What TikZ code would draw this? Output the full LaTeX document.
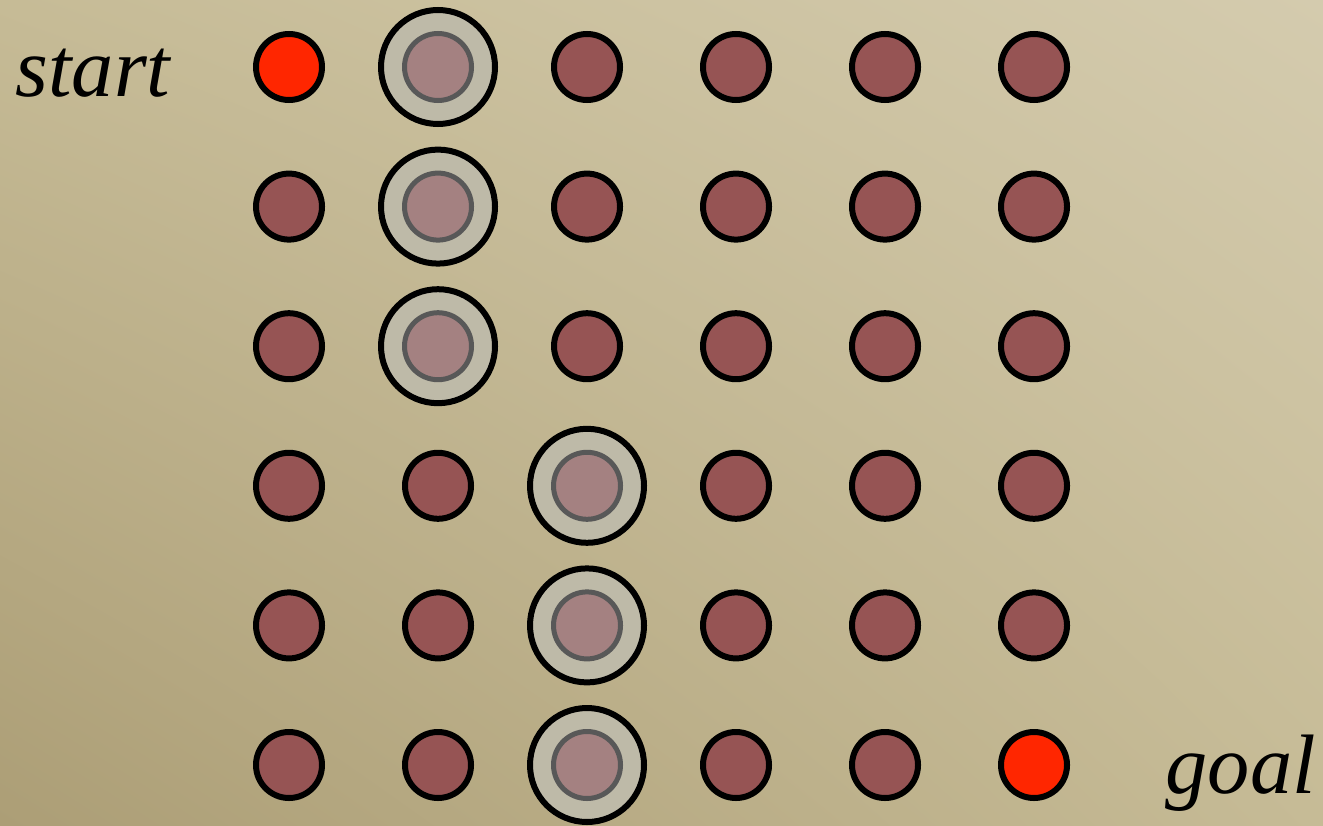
\documentclass[tikz,border=0pt]{standalone}
\usepackage{fontspec}
\setmainfont{Liberation Serif}
\usetikzlibrary{calc,shadings}
\definecolor{sandlight}{RGB}{212,203,174}
\definecolor{sandmid}{RGB}{198,187,150}
\definecolor{sanddark}{RGB}{172,158,118}
\definecolor{cellred}{RGB}{150,84,84}
\definecolor{endred}{RGB}{255,38,0}
\definecolor{halo}{RGB}{190,186,168}
\definecolor{blocked}{RGB}{164,129,129}
\definecolor{ringgrey}{RGB}{88,88,88}

\begin{document}
\begin{tikzpicture}[
  cell/.style={circle, draw=black, line width=0.06cm, fill=cellred, minimum size=0.66cm, inner sep=0pt},
  endcell/.style={cell, fill=endred},
  halocell/.style={circle, draw=black, line width=0.06cm, fill=halo, minimum size=1.14cm, inner sep=0pt},
  blockcell/.style={circle, draw=ringgrey, line width=0.05cm, fill=blocked, minimum size=0.67cm, inner sep=0pt},
  lbl/.style={font=\fontsize{24}{28}\selectfont\itshape, inner sep=0pt}]
\useasboundingbox (0,0) rectangle (13.23,8.25);
\shade[lower left=sanddark, lower right=sandmid, upper left=sandmid, upper right=sandlight] (0,0) rectangle (13.23,8.25);
% grid: column 2 blocked in rows 1-3, column 3 in rows 4-6
\foreach \r in {1,...,6}
  \foreach \c in {1,...,6} {
    \pgfmathtruncatemacro\kind{((\c==2 && \r<4) || (\c==3 && \r>3)) ? 1 : (((\c==1 && \r==1) || (\c==6 && \r==6)) ? 2 : 0)}
    \coordinate (p-\r-\c) at ({2.89+1.49*(\c-1)},{7.58-1.396*(\r-1)});
    \ifcase\kind
      \node[cell] (c-\r-\c) at (p-\r-\c) {};
    \or
      \node[halocell] (h-\r-\c) at (p-\r-\c) {};
      \node[blockcell] (c-\r-\c) at (h-\r-\c) {};
    \or
      \node[endcell] (c-\r-\c) at (p-\r-\c) {};
    \fi
  }
\node[lbl, anchor=base west] (startlbl) at (0.15,7.28) {start};
\node[lbl, anchor=base west] (goallbl) at (11.65,0.32) {goal};
\end{tikzpicture}
\end{document}
